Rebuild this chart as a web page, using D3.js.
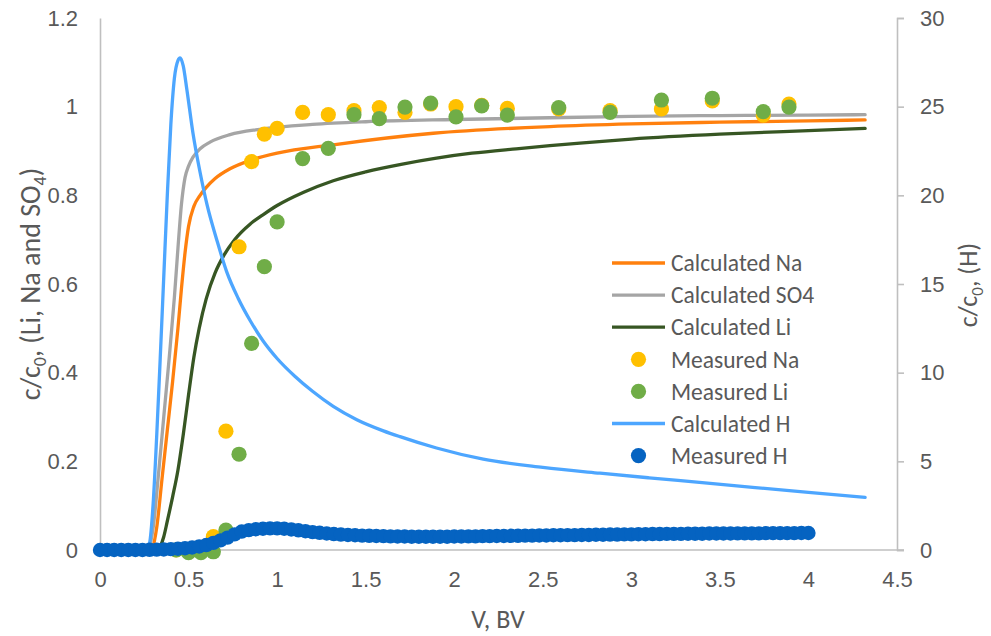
<!DOCTYPE html>
<html>
<head>
<meta charset="utf-8">
<script src="https://cdn.jsdelivr.net/npm/d3@7"></script>
<style>
  html, body { margin: 0; padding: 0; background: #ffffff; }
  svg { display: block; font-family: Carlito, Calibri, Lato, "Noto Sans", sans-serif; }
</style>
</head>
<body>
<svg id="chart" width="991" height="636"></svg>
<script>
// ---- Axis ticks ----
const xTicks = [0, 0.5, 1, 1.5, 2, 2.5, 3, 3.5, 4, 4.5];
const yLeftTicks = [0, 0.2, 0.4, 0.6, 0.8, 1, 1.2];
const yRightTicks = [0, 5, 10, 15, 20, 25, 30];

// ---- Calculated curves (left axis, c/c0) ----
const calcNaX  = [0, 0.27, 0.30, 0.32, 0.35, 0.38, 0.41, 0.44, 0.46, 0.48, 0.50, 0.53, 0.565, 0.60, 0.65, 0.734, 0.85, 1.0, 1.317, 1.882, 2.54, 3.0, 3.5, 4.0, 4.32];
const calcNaY  = [0, 0, 0.01, 0.05, 0.16, 0.27, 0.38, 0.5, 0.59, 0.67, 0.73, 0.775, 0.80, 0.818, 0.838, 0.86, 0.879, 0.895, 0.914, 0.94, 0.955, 0.961, 0.965, 0.968, 0.97];

const calcSO4X = [0, 0.25, 0.28, 0.30, 0.33, 0.36, 0.39, 0.42, 0.44, 0.46, 0.48, 0.50, 0.525, 0.565, 0.621, 0.734, 0.903, 1.2, 1.5, 2.0, 2.54, 3.0, 3.5, 4.0, 4.32];
const calcSO4Y = [0, 0, 0.01, 0.05, 0.17, 0.3, 0.43, 0.57, 0.68, 0.78, 0.84, 0.866, 0.886, 0.905, 0.92, 0.937, 0.949, 0.96, 0.966, 0.971, 0.975, 0.978, 0.98, 0.981, 0.982];

const calcLiX  = [0, 0.32, 0.34, 0.36, 0.38, 0.41, 0.44, 0.47, 0.50, 0.53, 0.56, 0.60, 0.65, 0.70, 0.76, 0.847, 0.92, 1.0, 1.15, 1.317, 1.5, 1.7, 1.9, 2.1, 2.35, 2.54, 2.71, 3.0, 3.5, 4.0, 4.32];
const calcLiY  = [0, 0, 0.008, 0.03, 0.065, 0.12, 0.18, 0.26, 0.35, 0.435, 0.5, 0.567, 0.625, 0.665, 0.7, 0.735, 0.756, 0.777, 0.807, 0.833, 0.853, 0.87, 0.884, 0.895, 0.905, 0.912, 0.918, 0.927, 0.938, 0.946, 0.951];

// ---- Measured Na and Li (left axis) ----
const measX  = [0.43, 0.50, 0.57, 0.64, 0.711, 0.785, 0.856, 0.928, 1.0, 1.144, 1.289, 1.434, 1.577, 1.722, 1.867, 2.01, 2.155, 2.30, 2.59, 2.88, 3.17, 3.457, 3.745, 3.89];
const measNa = [0, 0, 0.005, 0.03, 0.268, 0.684, 0.876, 0.938, 0.951, 0.987, 0.982, 0.991, 0.998, 0.987, 1.006, 1.0, 1.003, 0.996, 0.995, 0.991, 0.995, 1.013, 0.981, 1.006];
const measLi = [0, -0.006, -0.006, -0.004, 0.045, 0.216, 0.466, 0.639, 0.74, 0.883, 0.906, 0.982, 0.973, 0.999, 1.008, 0.977, 1.002, 0.981, 0.998, 0.987, 1.015, 1.019, 0.989, 0.999];

// ---- Calculated H (right axis) ----
const calcHX = [0, 0.26, 0.28, 0.30, 0.32, 0.34, 0.36, 0.38, 0.40, 0.42, 0.44, 0.452, 0.47, 0.49, 0.525, 0.565, 0.606, 0.659, 0.715, 0.78, 0.85, 0.92, 1.0, 1.1, 1.2, 1.317, 1.45, 1.6, 1.694, 1.9, 2.164, 2.5, 2.823, 3.1, 3.4, 3.7, 4.0, 4.32];
const calcHY = [0, 0, 0.4, 2.6, 6.4, 10.8, 15.4, 20.0, 24.0, 26.6, 27.6, 27.75, 27.3, 26.0, 23.5, 21.3, 19.4, 17.5, 15.7, 14.2, 12.9, 11.8, 10.8, 9.8, 8.95, 8.1, 7.35, 6.72, 6.39, 5.75, 5.12, 4.66, 4.33, 4.07, 3.8, 3.52, 3.25, 2.97];

// ---- Measured H (right axis) ----
const measHX = [0, 0.04, 0.08, 0.12, 0.16, 0.2, 0.24, 0.28, 0.32, 0.36, 0.4, 0.44, 0.48, 0.52, 0.56, 0.6, 0.64, 0.68, 0.72, 0.76, 0.8, 0.84, 0.88, 0.92, 0.96, 1.0,
  1.04, 1.08, 1.12, 1.16, 1.2, 1.24, 1.28, 1.32, 1.36, 1.4, 1.44, 1.48, 1.52, 1.56, 1.6, 1.64, 1.68, 1.72, 1.76, 1.8, 1.84, 1.88, 1.92, 1.96, 2.0,
  2.04, 2.08, 2.12, 2.16, 2.2, 2.24, 2.28, 2.32, 2.36, 2.4, 2.44, 2.48, 2.52, 2.56, 2.6, 2.64, 2.68, 2.72, 2.76, 2.8, 2.84, 2.88, 2.92, 2.96, 3.0,
  3.04, 3.08, 3.12, 3.16, 3.2, 3.24, 3.28, 3.32, 3.36, 3.4, 3.44, 3.48, 3.52, 3.56, 3.6, 3.64, 3.68, 3.72, 3.76, 3.8, 3.84, 3.88, 3.92, 3.96, 4.0];
const measHY = [0, 0, 0, 0, 0, 0, 0, 0.01, 0.02, 0.03, 0.05, 0.07, 0.1, 0.14, 0.2, 0.28, 0.4, 0.54, 0.7, 0.88, 1.04, 1.12, 1.17, 1.2, 1.22, 1.22,
  1.2, 1.16, 1.11, 1.06, 1.01, 0.97, 0.93, 0.9, 0.87, 0.85, 0.83, 0.81, 0.8, 0.79, 0.78, 0.77, 0.76, 0.76, 0.75, 0.75, 0.75, 0.75, 0.75, 0.75, 0.76,
  0.76, 0.77, 0.77, 0.78, 0.78, 0.79, 0.79, 0.8, 0.8, 0.81, 0.81, 0.82, 0.82, 0.83, 0.83, 0.84, 0.84, 0.85, 0.85, 0.86, 0.86, 0.87, 0.87, 0.88, 0.88,
  0.89, 0.89, 0.9, 0.9, 0.91, 0.91, 0.91, 0.92, 0.92, 0.92, 0.93, 0.93, 0.93, 0.93, 0.94, 0.94, 0.94, 0.94, 0.95, 0.95, 0.95, 0.95, 0.95, 0.96, 0.96];

// ---- Colours ----
const colNa = "#FF800E", colSO4 = "#A5A5A5", colLi = "#375623";
const colMNa = "#FFC000", colMLi = "#70AD47", colH = "#4DA6FF", colMH = "#0563C1";
const textCol = "#595959", axisCol = "#BFBFBF";

const svg = d3.select("#chart");
const plot = { left: 100, right: 897, top: 18, bottom: 550 };

const x = d3.scaleLinear().domain([0, 4.5]).range([plot.left, plot.right]);
const yL = d3.scaleLinear().domain([0, 1.2]).range([plot.bottom, plot.top]);
const yR = d3.scaleLinear().domain([0, 30]).range([plot.bottom, plot.top]);

const zip = (xs, ys) => xs.map((v, i) => [v, ys[i]]);
const fmt = d => String(+d.toFixed(1));

// Axes
const gx = svg.append("g").attr("transform", `translate(0,${plot.bottom})`)
  .call(d3.axisBottom(x).tickValues(xTicks).tickSize(0).tickPadding(21).tickFormat(fmt));
const gl = svg.append("g").attr("transform", `translate(${plot.left},0)`)
  .call(d3.axisLeft(yL).tickValues(yLeftTicks).tickSize(0).tickPadding(22).tickFormat(fmt));
const gr = svg.append("g").attr("transform", `translate(${plot.right},0)`)
  .call(d3.axisRight(yR).tickValues(yRightTicks).tickSize(7).tickSizeOuter(7).tickPadding(16).tickFormat(fmt));

[gx, gl, gr].forEach(g => {
  g.select(".domain").attr("stroke", axisCol).attr("stroke-width", 1.6);
  g.selectAll(".tick line").attr("stroke", axisCol).attr("stroke-width", 1.6);
  g.selectAll(".tick text").attr("fill", textCol).attr("font-size", 22);
});
// bottom axis extends a little beyond the right axis
gx.select(".domain").attr("d", `M${plot.left},0H${plot.right + 7}`);

const lineL = d3.line().x(d => x(d[0])).y(d => yL(d[1])).curve(d3.curveMonotoneX);
const lineR = d3.line().x(d => x(d[0])).y(d => yR(d[1])).curve(d3.curveMonotoneX);

// Calculated Na, SO4, Li
const curves = [
  { xs: calcNaX, ys: calcNaY, c: colNa },
  { xs: calcSO4X, ys: calcSO4Y, c: colSO4 },
  { xs: calcLiX, ys: calcLiY, c: colLi }
];
curves.forEach(s => {
  svg.append("path").datum(zip(s.xs, s.ys))
    .attr("fill", "none").attr("stroke", s.c).attr("stroke-width", 3.3)
    .attr("stroke-linejoin", "round").attr("stroke-linecap", "round")
    .attr("d", lineL);
});

// Measured Na, Li
svg.append("g").selectAll("circle").data(zip(measX, measNa)).join("circle")
  .attr("cx", d => x(d[0])).attr("cy", d => yL(d[1])).attr("r", 7.6).attr("fill", colMNa);
svg.append("g").selectAll("circle").data(zip(measX, measLi)).join("circle")
  .attr("cx", d => x(d[0])).attr("cy", d => yL(d[1])).attr("r", 7.6).attr("fill", colMLi);

// Calculated H (right axis)
svg.append("path").datum(zip(calcHX, calcHY))
  .attr("fill", "none").attr("stroke", colH).attr("stroke-width", 3.3)
  .attr("stroke-linejoin", "round").attr("stroke-linecap", "round")
  .attr("d", lineR);

// Measured H (right axis)
svg.append("g").selectAll("circle").data(zip(measHX, measHY)).join("circle")
  .attr("cx", d => x(d[0])).attr("cy", d => yR(d[1])).attr("r", 7.2).attr("fill", colMH);

// Axis titles
const leftTitle = svg.append("text")
  .attr("transform", `translate(40,284) rotate(-90)`)
  .attr("text-anchor", "middle").attr("fill", textCol).attr("font-size", 28);
leftTitle.append("tspan").text("c/c");
leftTitle.append("tspan").attr("font-size", 18).attr("dy", 6).text("0");
leftTitle.append("tspan").attr("dy", -6).text(", (Li, Na and SO");
leftTitle.append("tspan").attr("font-size", 18).attr("dy", 6).text("4");
leftTitle.append("tspan").attr("dy", -6).text(")");

const rightTitle = svg.append("text")
  .attr("transform", `translate(977,285) rotate(-90)`)
  .attr("text-anchor", "middle").attr("fill", textCol).attr("font-size", 26);
rightTitle.append("tspan").text("c/c");
rightTitle.append("tspan").attr("font-size", 17).attr("dy", 6).text("0");
rightTitle.append("tspan").attr("dy", -6).text(", (H)");

svg.append("text").attr("x", 498).attr("y", 628)
  .attr("text-anchor", "middle").attr("fill", textCol).attr("font-size", 26)
  .text("V, BV");

// Legend
const legendItems = [
  { name: "Calculated Na", type: "line", c: colNa },
  { name: "Calculated SO4", type: "line", c: colSO4 },
  { name: "Calculated Li", type: "line", c: colLi },
  { name: "Measured Na", type: "dot", c: colMNa },
  { name: "Measured Li", type: "dot", c: colMLi },
  { name: "Calculated H", type: "line", c: colH },
  { name: "Measured H", type: "dot", c: colMH }
];
const lg = svg.append("g").attr("transform", "translate(612,263)");
legendItems.forEach((it, i) => {
  const g = lg.append("g").attr("transform", `translate(0,${i * 32.1})`);
  if (it.type === "line") {
    g.append("line").attr("x1", 0).attr("x2", 53).attr("y1", 0).attr("y2", 0)
      .attr("stroke", it.c).attr("stroke-width", 3.3);
  } else {
    g.append("circle").attr("cx", 26.5).attr("cy", 0).attr("r", 7.6).attr("fill", it.c);
  }
  g.append("text").attr("x", 59).attr("y", 0).attr("dy", "0.35em")
    .attr("fill", textCol).attr("font-size", 23.5).text(it.name);
});
</script>
</body>
</html>
